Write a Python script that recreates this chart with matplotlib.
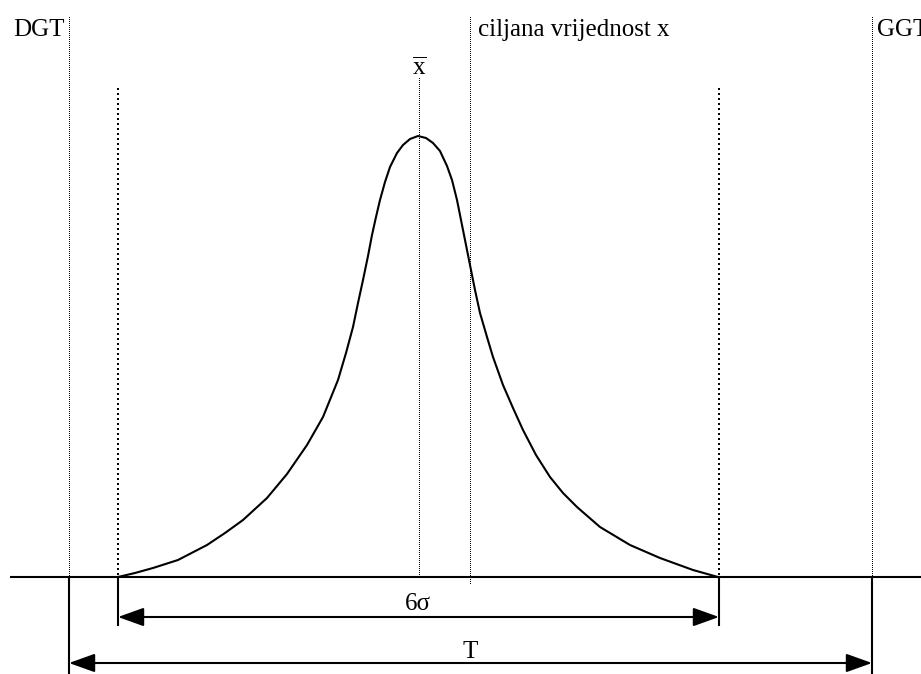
import matplotlib
matplotlib.use("Agg")
import matplotlib.pyplot as plt
from matplotlib.patches import ArrowStyle

plt.rcParams['font.family'] = ['Liberation Serif', 'DejaVu Serif']
plt.rcParams['mathtext.fontset'] = 'custom'
plt.rcParams['mathtext.rm'] = 'Liberation Serif'
plt.rcParams['mathtext.it'] = 'Liberation Serif'
plt.rcParams['lines.scale_dashes'] = False

# ---- data (pixel units: x right, y down) ----
curve_x = [118, 135, 153, 178, 207, 225, 243, 267, 287, 307, 323, 338, 346, 353, 358,
           363, 368, 372, 376, 380, 385, 390, 397, 403, 410, 418, 426, 433, 440,
           447, 452, 457, 463, 470, 475, 480, 487, 493, 503, 513, 523, 536, 550,
           563, 577, 600, 630, 660, 693, 718]
curve_y = [577, 573, 568, 560, 545, 533, 520, 498, 474, 445, 417, 380, 353, 327, 303,
           280, 256, 235, 217, 200, 182, 167, 153, 145, 139, 136, 138, 143, 151,
           166, 180, 200, 230, 265, 290, 313, 337, 357, 385, 408, 430, 455, 477,
           493, 507, 527, 545, 558, 570, 577]

x_dgt, x_lo, x_mean, x_target, x_hi, x_ggt = 69, 118, 419, 470, 719, 872
baseline_y = 577
labels = {'DGT': 'DGT', 'GGT': 'GGT', 'target': 'ciljana vrijednost x',
          'mean': r'$\overline{\mathrm{x}}$', 'spread': '6σ', 'tol': 'T'}

# ---- figure ----
fig = plt.figure(figsize=(9.21, 6.74), dpi=100)
ax = fig.add_axes([0, 0, 1, 1])
ax.set_xlim(0, 921)
ax.set_ylim(674, 0)
ax.axis('off')

dense = (0, (0.72, 1.44))
sparse = (0, (1.44, 2.88))

def vline(x, y0, y1, ls, lw):
    ax.plot([x, x], [y0, y1], color='black', lw=lw, ls=ls, antialiased=False,
            dash_capstyle='butt')

# vertical dotted lines
vline(x_dgt, 17, baseline_y, dense, 0.75)
vline(x_ggt, 17, baseline_y, dense, 0.75)
vline(x_target, 17, 585, dense, 0.75)
vline(x_mean, 78, baseline_y, dense, 0.75)
vline(x_lo, 88, baseline_y, sparse, 1.44)
vline(x_hi, 88, baseline_y, sparse, 1.44)

# baseline
ax.plot([10, 921], [baseline_y, baseline_y], color='black', lw=1.5, solid_capstyle='butt')

# curve
ax.plot(curve_x, curve_y, color='black', lw=1.5, solid_joinstyle='round')

# solid extension lines
ax.plot([x_lo, x_lo], [baseline_y, 625], color='black', lw=1.5)
ax.plot([x_hi, x_hi], [baseline_y, 625], color='black', lw=1.5)
ax.plot([x_dgt, x_dgt], [baseline_y, 674], color='black', lw=1.5)
ax.plot([x_ggt, x_ggt], [baseline_y, 674], color='black', lw=1.5)

style = ArrowStyle('<|-|>', head_length=0.53, head_width=0.19)
for (a, b, y) in [(x_lo, x_hi, 617), (x_dgt, x_ggt, 663)]:
    ax.annotate('', xy=(b, y), xytext=(a, y),
                arrowprops=dict(arrowstyle=style, mutation_scale=30, lw=1.5,
                                color='black', shrinkA=0, shrinkB=0))

fs = 18
ax.text(13, 36, labels['DGT'], fontsize=fs, ha='left', va='baseline')
ax.text(877, 36, labels['GGT'], fontsize=fs, ha='left', va='baseline')
ax.text(478, 36, labels['target'], fontsize=fs, ha='left', va='baseline')
ax.text(x_mean, 75, labels['mean'], fontsize=fs, ha='center', va='baseline')
ax.text(418, 610, labels['spread'], fontsize=fs, ha='center', va='baseline')
ax.text(x_target, 658, labels['tol'], fontsize=fs, ha='center', va='baseline')

fig.savefig('out.png', dpi=100)
